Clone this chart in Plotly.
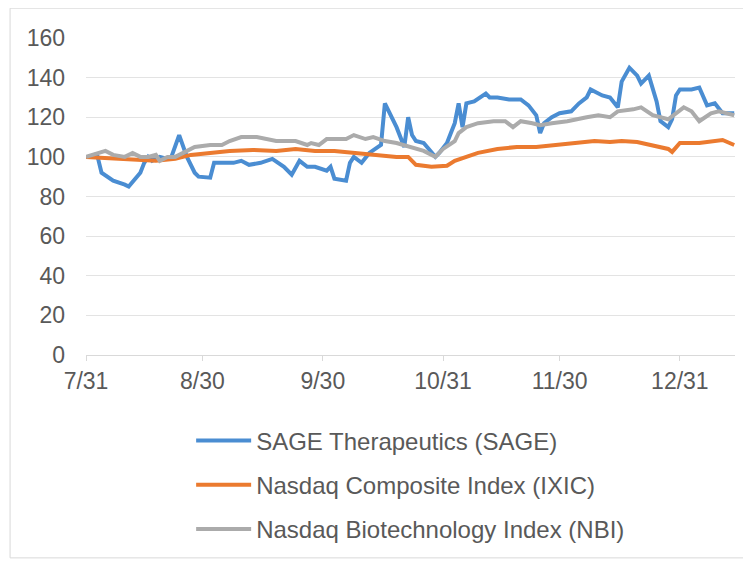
import pandas as pd
import plotly.graph_objects as go

base_date = "2014-07-31"

# SAGE Therapeutics (SAGE), indexed to 100 on 7/31
sage_days = [0, 3, 4, 7, 10, 11, 14, 15, 16, 17, 19, 21, 22, 24, 26, 28, 29, 32, 33, 36, 38, 40,
             42, 45, 48, 51, 53, 55, 57, 59, 62, 63, 64, 67, 68, 69, 71, 73, 75, 76, 77, 80, 82,
             83, 84, 85, 87, 90, 91, 93, 94, 95, 96, 97, 98, 100, 103, 104, 106, 109, 112, 114,
             116, 117, 118, 120, 122, 125, 127, 129, 130, 133, 135, 137, 138, 140, 142, 143, 145,
             147, 148, 150, 151, 152, 153, 156, 158, 160, 162, 164, 167]
sage_vals = [100, 100, 92, 88, 86, 85, 92, 97, 100, 98, 100, 99, 100, 111, 100, 92, 90, 89.5, 97,
             97, 97, 98, 96, 97, 99, 95, 91, 98, 95, 95, 93, 95, 89, 88, 97, 100, 97, 102, 105,
             106, 127, 115, 105, 120, 111, 108, 107, 100, 102, 107, 112, 117, 127, 115, 127, 128,
             132, 130, 130, 129, 129, 126, 121, 112, 117, 120, 122, 123, 127, 130, 134, 131, 130,
             125, 138, 145, 141, 137, 141, 128, 118, 115, 119, 131, 134, 134, 135, 126, 127, 122,
             122]

# Nasdaq Composite Index (IXIC)
ixic_days = [0, 9, 14, 18, 23, 27, 32, 37, 43, 49, 54, 59, 64, 69, 74, 80, 83, 85, 89, 93, 95,
             98, 101, 106, 111, 116, 121, 126, 131, 135, 138, 142, 146, 150, 151, 153, 158, 162,
             164, 167]
ixic_vals = [100, 99, 98, 98, 99, 101, 102, 103, 103.5, 103, 104, 103, 103, 102, 101, 100, 100,
             96, 95, 95.5, 98, 100, 102, 104, 105, 105, 106, 106.5, 108, 107.5, 108, 107.5, 106,
             104, 102.5, 107, 107, 108, 108.5, 106]

# Nasdaq Biotechnology Index (NBI)
nbi_days = [0, 5, 7, 10, 12, 14, 16, 18, 19, 21, 23, 26, 28, 32, 35, 37, 40, 44, 47, 49, 54, 57,
            58, 60, 62, 67, 69, 72, 74, 77, 80, 84, 87, 90, 92, 95, 96, 98, 101, 105, 108, 110,
            112, 115, 117, 120, 124, 129, 132, 135, 137, 141, 143, 146, 150, 154, 156, 158, 161,
            163, 167]
nbi_vals = [100, 103, 101, 100, 102, 100, 100, 101, 98, 100, 100, 103, 105, 106, 106, 108, 110,
            110, 109, 108, 108, 106, 107, 106, 109, 109, 111, 109, 110, 108, 107, 105, 103, 100,
            104, 108, 112, 115, 117, 118, 118, 115, 118, 117, 116, 117, 118, 120, 121, 120, 123,
            124, 125, 121, 119, 125, 123, 118, 122, 123, 121]

tick_dates = ["2014-07-31", "2014-08-30", "2014-09-30", "2014-10-31", "2014-11-30", "2014-12-31"]
tick_labels = ["7/31", "8/30", "9/30", "10/31", "11/30", "12/31"]

names = ["SAGE Therapeutics (SAGE)", "Nasdaq Composite Index (IXIC)",
         "Nasdaq Biotechnology Index (NBI)"]
colors = ["#4A8DD2", "#EB7A2F", "#ABABAB"]

b = pd.Timestamp(base_date)
def to_dates(days):
    return [b + pd.Timedelta(days=d) for d in days]

fig = go.Figure()
for i, (d, v) in enumerate([(sage_days, sage_vals), (ixic_days, ixic_vals), (nbi_days, nbi_vals)]):
    fig.add_trace(go.Scatter(x=to_dates(d), y=v, mode="lines", name=names[i],
                             legendgroup=f"g{i}",
                             line=dict(color=colors[i], width=4)))

font_color = "#595959"
fig.update_layout(
    width=743, height=556,
    margin=dict(l=78, r=16, t=30, b=206),
    paper_bgcolor="white", plot_bgcolor="white",
    font=dict(family="Liberation Sans, Arial, sans-serif", size=23, color=font_color),
    showlegend=True,
    legend=dict(x=0.162, y=-0.2, xanchor="left", yanchor="top", orientation="v",
                traceorder="grouped", tracegroupgap=10, itemwidth=55,
                font=dict(size=24, color=font_color), bgcolor="rgba(0,0,0,0)"),
    xaxis=dict(type="date", range=[b, b + pd.Timedelta(days=167.2)],
               tickvals=tick_dates, ticktext=tick_labels,
               showgrid=False, zeroline=False, showline=True, linecolor="#D9D9D9", linewidth=1,
               ticks="outside", ticklen=5, tickcolor="#D9D9D9",
               tickfont=dict(size=23, color=font_color)),
    yaxis=dict(range=[0, 160], tickvals=[0, 20, 40, 60, 80, 100, 120, 140, 160],
               showgrid=True, gridcolor="#E3E3E3", gridwidth=1, zeroline=False,
               showline=False, ticks="", ticklabelstandoff=20,
               tickfont=dict(size=23, color=font_color)),
    shapes=[dict(type="rect", xref="paper", yref="paper",
                 x0=-0.117, x1=1.023, y0=-0.64, y1=1.094,
                 line=dict(color="#D9D9D9", width=1), fillcolor="rgba(0,0,0,0)", layer="below")],
)

fig.write_html("out.html")
